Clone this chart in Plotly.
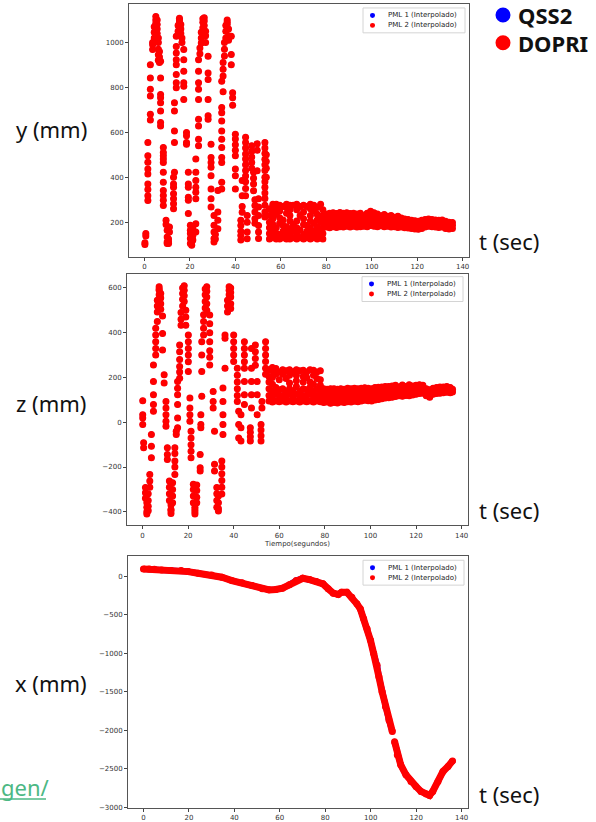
import plotly.graph_objects as go

# ---------------------------------------------------------------
# Data: PML trajectory components (mm) against time (s)
# y and z are stored as time columns: (t, [values at that t])
# ---------------------------------------------------------------
y_columns = [
    (0.2, [100, 108]), (0.6, [138, 150]),
    (1.5, [296, 318, 345, 370, 414, 437, 467, 495, 555]),
    (2.6, [655, 680, 761, 791, 842, 901]),
    (3.6, [968, 990, 1000]), (4.3, [1020, 1045, 1070]), (5.0, [1085, 1100, 1115]),
    (5.6, [1100, 1080, 1060, 1040]), (6.1, [1020, 1000, 970, 945, 920]),
    (6.6, [960, 935, 910]),
    (7.1, [916, 842, 768, 754, 731, 695, 643, 628]),
    (8.3, [532, 510, 496, 481, 466, 422, 378, 341, 319, 297, 274]),
    (9.5, [208, 190]), (10.0, [164, 134, 112, 105]), (10.6, [105, 112, 125]),
    (11.0, [178, 156]),
    (12.8, [260, 282, 304, 326, 355, 370, 400]), (13.2, [422, 555, 606, 695, 731]),
    (14.0, [798, 820, 857, 901, 923, 953, 982, 1027]),
    (14.8, [1050, 1075]), (15.4, [1090, 1108, 1100]), (16.0, [1080, 1060, 1040]),
    (16.5, [1020, 1000]),
    (17.3, [968, 923, 872, 820, 805, 746]),
    (18.5, [599, 584, 555, 547]),
    (19.3, [422, 370, 355, 311, 297, 238]),
    (20.2, [186, 164, 149, 127, 105]), (20.8, [97, 110, 130, 150]), (21.3, [120, 140, 160, 175]),
    (22.6, [156, 193, 304, 333, 355, 385, 422, 481]),
    (23.8, [540, 569, 628, 658, 746, 791, 820, 872, 923]),
    (24.4, [950, 975]),
    (25.0, [997, 1020, 1045]), (25.7, [1065, 1090, 1105]), (26.3, [1110, 1095, 1075]),
    (26.9, [1050, 1030, 1000]),
    (28.0, [938, 864, 835, 746, 673, 658]),
    (29.3, [547, 488, 466, 444, 407, 348, 304, 267]),
    (30.6, [230, 186, 156, 127, 112]), (31.2, [125, 145]),
    (32.3, [245, 208, 171, 341]),
    (34.0, [348, 378, 466, 488, 532, 569, 606, 650, 687, 710, 827]),
    (34.6, [780, 850, 880, 910]),
    (35.2, [940, 970, 1000]), (35.8, [1020, 1050, 1075]), (36.4, [1090, 1100, 1080]),
    (37.0, [1060, 1030, 1010]),
    (38.2, [1027, 946, 901]), (38.8, [776, 754, 720]),
    (40.0, [591, 570, 545, 520, 495, 436, 407, 348]),
    (42.4, [120, 140, 160, 185, 208]), (43.0, [244, 270, 318, 385]),
    (44.5, [578, 555, 530, 503, 481, 455, 430, 405, 380, 350, 318]),
    (45.2, [230, 200, 156, 126]),
    (47.2, [540, 515, 490, 466, 440]), (48.0, [422, 395, 370, 340]),
    (48.6, [300, 274, 245, 215, 195]),
    (49.6, [429, 520, 549]), (50.2, [304, 267, 230, 185, 156, 127]),
    (53.0, [555, 530, 505, 480, 455, 430, 400, 380, 355, 330, 305, 275, 245, 223]),
    (53.6, [500, 470, 440, 400]),
    (55.0, [125, 150, 175, 200, 230, 260]),
    (56.5, [130, 160, 190, 215, 240, 265, 280]),
    (58.0, [125, 150, 175, 235, 260, 280]),
    (59.5, [125, 145, 195, 220, 250, 275]),
    (61.0, [130, 160, 185, 210, 270]),
    (62.5, [125, 150, 180, 240, 265, 280]),
    (64.0, [125, 145, 170, 205, 230, 255, 275]),
    (65.5, [130, 160, 190, 275]),
    (67.0, [125, 150, 175, 205, 255, 280]),
    (68.5, [130, 165, 230, 270]),
    (70.0, [125, 145, 190, 215, 245, 275]),
    (71.5, [130, 160, 185, 270]),
    (73.0, [125, 150, 175, 205, 230, 260, 280]),
    (74.5, [130, 160, 195, 250, 275]),
    (76.0, [125, 150, 180, 210, 235, 265]),
    (77.5, [130, 165, 200, 225, 280]),
    (78.5, [125, 150, 175, 200, 230, 255]),
    (80.0, [178, 198, 218, 236]), (81.5, [175, 195, 215, 240]),
    (83.0, [180, 200, 222, 242]), (84.5, [176, 196, 218, 238]),
    (86.0, [180, 202, 225, 243]), (87.5, [178, 198, 220, 240]),
    (89.0, [182, 205, 228, 242]), (90.5, [178, 200, 222, 238]),
    (92.0, [182, 204, 226, 240]), (93.5, [178, 198, 220, 236]),
    (95.0, [180, 202, 225, 240]), (96.5, [182, 205, 228]),
    (98.0, [180, 200, 222, 240]), (99.5, [185, 208, 230, 248]),
    (101.0, [182, 205, 228, 242]), (102.5, [180, 200, 222, 236]),
    (104.0, [184, 206, 228]), (105.5, [180, 200, 222, 234]),
    (107.0, [182, 204, 226]), (108.5, [178, 198, 220, 230]),
    (110.0, [180, 200, 222]), (111.5, [176, 196, 216, 226]),
    (113.0, [178, 198, 218]), (114.5, [175, 194, 214]),
    (116.0, [174, 192, 212]), (117.5, [172, 190, 208]),
    (119.0, [170, 188, 206]), (120.5, [168, 185, 204]),
    (122.0, [172, 190, 208]), (123.5, [178, 196, 212]),
    (125.0, [182, 198, 214]), (126.5, [180, 196, 212]),
    (128.0, [178, 195, 210]), (129.5, [176, 192, 208]),
    (131.0, [178, 194, 210]), (132.5, [172, 188, 204]),
    (134.0, [170, 185, 200]), (135.5, [172, 186, 198]),
]

z_columns = [
    (0.1, [96, 34, 19, -10]), (0.5, [-92, -114]),
    (1.3, [-292, -315, -340]), (1.9, [-360, -380, -400, -410]),
    (2.5, [-395, -375, -350, -320]), (3.2, [-290, -262, -233]),
    (3.9, [-159, -107, -55]),
    (4.8, [49, 79, 123, 182, 256]),
    (5.8, [300, 330, 360, 390, 420]),
    (6.5, [450, 493, 520, 545]),
    (7.3, [570, 590, 605, 595]), (8.0, [575, 555, 530, 505]),
    (8.8, [475, 397, 323]), (9.5, [212, 175]),
    (10.3, [93, 64, 34, 4, -18]), (10.9, [-114, -144, -166]),
    (11.8, [-262, -290, -320, -350]), (12.5, [-370, -390, -408, -395]),
    (13.2, [-360, -330, -300, -270]),
    (14.2, [-114, -140, -173, -200, -233]), (14.8, [-40, -55]),
    (15.4, [182, 152, 123, 79, 19, -25]),
    (16.3, [197, 225, 249, 280, 315, 345]),
    (16.9, [434, 460, 490]), (17.6, [520, 550, 575, 600]),
    (18.3, [610, 590, 565, 540]), (19.0, [500, 470, 434]),
    (20.1, [390, 360, 330, 300, 270, 227]),
    (20.8, [108, 64, 34, 4]), (21.3, [-40, -70, -100, -130, -159]),
    (22.3, [-277, -300, -330, -360]), (23.0, [-380, -400, -410, -390]),
    (23.8, [-360, -335, -305, -280]),
    (25.3, [-144, -203, -218]), (25.6, [-25, -10, 34]),
    (26.0, [116, 227, 301, 360]), (26.8, [390, 420, 450, 480]),
    (27.5, [510, 540, 570, 595]), (28.2, [605, 585, 560, 530, 500]),
    (29.5, [479, 440, 400, 360, 320, 290, 256]),
    (31.0, [138, 93, 64]), (31.6, [-40, -188, -218]),
    (32.6, [-292, -320, -350, -380]), (33.3, [-396, -385, -360, -330]),
    (34.8, [-173, -200, -230, -260, -290, -321]),
    (35.3, [-55, -10, 34, 93, 153]),
    (36.2, [241, 375, 390]),
    (37.3, [493, 520, 545]), (38.0, [570, 590, 605]),
    (38.7, [600, 580, 560, 530, 508]),
    (40.0, [390, 360, 330, 300, 271]),
    (41.6, [241, 210, 180, 150, 120, 93]),
    (42.2, [49, -10, -70]), (43.2, [34, -25, -84]),
    (44.7, [360, 330, 300, 270, 241, 182, 123, 79]),
    (47.3, [-25, -45, -65, -84]),
    (47.8, [64, 123, 182, 241, 330]),
    (49.5, [345, 315, 285, 255]), (50.3, [182, 123, 34]),
    (52.0, [-10, -35, -60, -84]), (52.4, [93, 64]),
    (54.0, [360, 330, 300, 271, 241, 215]),
    (55.5, [95, 120, 150, 180, 205, 235]),
    (57.0, [90, 115, 140, 170, 200, 230, 245]),
    (58.5, [95, 125, 155, 215, 240]),
    (60.0, [92, 118, 145, 190, 225]),
    (61.5, [95, 120, 150, 215, 235]),
    (63.0, [90, 112, 135, 195, 230]),
    (64.5, [95, 125, 150, 175, 210, 235]),
    (66.0, [92, 118, 140, 225]),
    (67.5, [95, 125, 160, 185, 210, 235]),
    (69.0, [90, 115, 140, 230]),
    (70.5, [95, 120, 150, 180, 205, 232]),
    (72.0, [92, 118, 145, 200, 225]),
    (73.5, [95, 125, 155, 180, 235]),
    (75.0, [90, 115, 140, 170, 210, 232]),
    (76.5, [95, 120, 150, 195, 225]),
    (78.0, [92, 115, 140, 165, 190, 230]),
    (79.5, [88, 108, 130, 150]), (81.0, [90, 110, 132, 148]),
    (82.5, [85, 105, 128, 150]), (84.0, [88, 110, 132, 150]),
    (85.5, [86, 106, 128, 148]), (87.0, [90, 112, 134, 150]),
    (88.5, [88, 108, 130, 148]), (90.0, [92, 112, 134, 152]),
    (91.5, [90, 110, 132, 150]), (93.0, [94, 115, 136, 152]),
    (94.5, [92, 112, 134, 150]), (96.0, [95, 116, 138, 152]),
    (97.5, [98, 118, 140, 154]), (99.0, [96, 116, 136, 152]),
    (100.5, [95, 115, 135, 150]), (102.0, [100, 120, 140, 155]),
    (103.5, [102, 122, 142, 156]), (105.0, [105, 125, 145, 158]),
    (106.5, [108, 128, 148, 160]), (108.0, [110, 130, 150, 160]),
    (109.5, [112, 132, 152, 162]), (111.0, [115, 135, 155, 165]),
    (112.5, [118, 138, 158]), (114.0, [116, 136, 156, 166]),
    (115.5, [120, 140, 160]), (117.0, [118, 138, 158, 168]),
    (118.5, [122, 142, 162]), (120.0, [125, 145, 165]),
    (121.5, [128, 148, 168]), (123.0, [130, 150, 165]),
    (124.5, [118, 135, 150]), (126.0, [112, 130, 145]),
    (127.5, [125, 140, 152]), (129.0, [128, 142, 155]),
    (130.5, [130, 144, 158]), (132.0, [132, 146, 158]),
    (133.5, [134, 148, 160]), (135.0, [132, 145, 155]),
    (136.0, [135, 148]),
]

# x(t): one smooth trajectory (None marks the small gap in the record)
t_x = [0, 2.5, 4.8, 8, 12.2, 16.6, 19.6, 24, 30, 34.5, 38.9, 43.4, 47.8, 52.3,
       55.3, 58.2, 61.2, 64.2, 67.2, 70.1, 73.1, 76.1, 79, 81.3, 83.5, 85.7,
       87.2, 89.5, 91.7, 93.9, 95.4, 96.9, 98.4, 99.9, 101.3, 102.8, 103.6,
       105, 106.5, 108, 109.5, None, 110.5, 111.7, 113.2, 115.5, 117.7, 119.9,
       122.1, 124.4, 125.9, 127.3, 129.6, 131.8, 134.0, 136.0]
x_mm = [95, 93, 90, 82, 73, 73, 60, 39, 17, -13, -56, -86, -121, -164,
        -177, -172, -155, -112, -56, -26, -43, -69, -99, -164, -220, -237,
        -207, -207, -272, -358, -422, -552, -681, -832, -1004, -1155, -1306,
        -1500, -1694, -1866, -2017, None, -2147, -2319, -2448, -2578, -2664, -2728,
        -2793, -2828, -2845, -2793, -2664, -2534, -2470, -2397]

x_ticks = [0, 20, 40, 60, 80, 100, 120, 140]
y_ticks = [200, 400, 600, 800, 1000]
z_ticks = [-400, -200, 0, 200, 400, 600]
xpos_ticks = [-3000, -2500, -2000, -1500, -1000, -500, 0]

series_names = ["PML 1 (Interpolado)", "PML 2 (Interpolado)"]
series_colors = ["#0000ff", "#ff0000"]
method_names = ["QSS2", "DOPRI"]


def flatten(columns):
    ts, vs = [], []
    for tc, vals in columns:
        for v in vals:
            ts.append(tc)
            vs.append(v)
    return ts, vs


t_y, y_mm = flatten(y_columns)
t_z, z_mm = flatten(z_columns)

W, H = 596, 822


def px(x):
    return x / W


def py(y):
    return 1 - y / H


TICK_FONT = dict(family="DejaVu Sans", size=7, color="#333333")
OUTER_FONT = dict(family="Noto Sans", size=22, color="#111111")

fig = go.Figure()

panels = [
    ("x", "y", t_y, y_mm, "markers"),
    ("x2", "y2", t_z, z_mm, "markers"),
    ("x3", "y3", t_x, x_mm, "lines+markers"),
]
# PML 1 is drawn first and slightly smaller, so PML 2 sits on top of it
sizes = [6, 7]
for xa, ya, tt, vv, mode in panels:
    for name, color, sz in zip(series_names, series_colors, sizes):
        fig.add_trace(go.Scatter(
            x=tt, y=vv, mode=mode, name=name, showlegend=False,
            xaxis=xa, yaxis=ya, connectgaps=False,
            marker=dict(color=color, size=sz, line=dict(width=0)),
            line=dict(color=color, width=sz),
        ))

common_x = dict(range=[-6.8, 142.8], tickvals=x_ticks, ticks="outside", ticklen=3,
                tickcolor="#444", tickfont=TICK_FONT, showgrid=False, zeroline=False,
                showline=True, linecolor="#555", linewidth=1, mirror=True)
common_y = dict(ticks="outside", ticklen=3, tickcolor="#444", tickfont=TICK_FONT,
                showgrid=False, zeroline=False, showline=True, linecolor="#555",
                linewidth=1, mirror=True)

fig.update_layout(
    width=W, height=H, margin=dict(l=0, r=0, t=0, b=0),
    paper_bgcolor="white", plot_bgcolor="white", showlegend=False,
    xaxis=dict(domain=[px(129), px(469)], anchor="y", **common_x),
    yaxis=dict(domain=[py(258), py(4)], anchor="x", range=[46, 1171],
               tickvals=y_ticks, **common_y),
    xaxis2=dict(domain=[px(127), px(468)], anchor="y2",
                title=dict(text="Tiempo(segundos)", font=TICK_FONT, standoff=2),
                **common_x),
    yaxis2=dict(domain=[py(528), py(275)], anchor="x2", range=[-461, 664],
                tickvals=z_ticks, **common_y),
    xaxis3=dict(domain=[px(128), px(468)], anchor="y3", **common_x),
    yaxis3=dict(domain=[py(812), py(559)], anchor="x3", range=[-3009, 259],
                tickvals=xpos_ticks, **common_y),
)

# Per-panel legend boxes (left, top, right, bottom in pixels)
legend_boxes = [(363, 8, 465, 33), (362, 278, 463, 303), (363, 563, 464, 588)]
for (l, t, r, b) in legend_boxes:
    fig.add_shape(type="rect", xref="paper", yref="paper",
                  x0=px(l), x1=px(r), y0=py(b), y1=py(t),
                  fillcolor="rgba(255,255,255,0.85)", line=dict(color="#d4d4d4", width=1))
    for i, (name, color) in enumerate(zip(series_names, series_colors)):
        cy = t + 7.5 + 10 * i
        fig.add_shape(type="circle", xref="paper", yref="paper",
                      x0=px(l + 7), x1=px(l + 12), y0=py(cy + 2.5), y1=py(cy - 2.5),
                      fillcolor=color, line=dict(width=0))
        fig.add_annotation(text=name, x=px(l + 23), y=py(cy), xref="paper", yref="paper",
                           showarrow=False, xanchor="left", yanchor="middle",
                           font=dict(family="DejaVu Sans", size=7, color="#222"))

# Outer axis labels
for label, yc in [("y (mm)", 130), ("z (mm)", 405), ("x (mm)", 686)]:
    fig.add_annotation(text=label, x=px(51), y=py(yc), xref="paper", yref="paper",
                       showarrow=False, font=OUTER_FONT, xanchor="center", yanchor="middle")
for yc in [242, 512, 798]:
    fig.add_annotation(text="t (sec)", x=px(477), y=py(yc), xref="paper", yref="paper",
                       showarrow=False, font=OUTER_FONT, xanchor="left", yanchor="middle")

# Method key at top right
for (name, color), yc in zip(zip(method_names, series_colors), [15, 43]):
    fig.add_shape(type="circle", xref="paper", yref="paper",
                  x0=px(495.5), x1=px(510.5), y0=py(yc + 7.5), y1=py(yc - 7.5),
                  fillcolor=color, line=dict(width=0))
    fig.add_annotation(text="<b>%s</b>" % name, x=px(516), y=py(yc), xref="paper",
                       yref="paper", showarrow=False, xanchor="left", yanchor="middle",
                       font=dict(family="Noto Sans", size=22, color="#111111"))

# Link fragment at bottom left
fig.add_annotation(text="gen/", x=px(-1), y=py(791), xref="paper", yref="paper",
                   showarrow=False, xanchor="left", yanchor="middle",
                   font=dict(family="Noto Sans", size=22, color="#4cb884"))
fig.add_shape(type="line", xref="paper", yref="paper", x0=px(0), x1=px(46),
              y0=py(803), y1=py(803), line=dict(color="#4cb884", width=1.5))

fig.write_html("out.html")
